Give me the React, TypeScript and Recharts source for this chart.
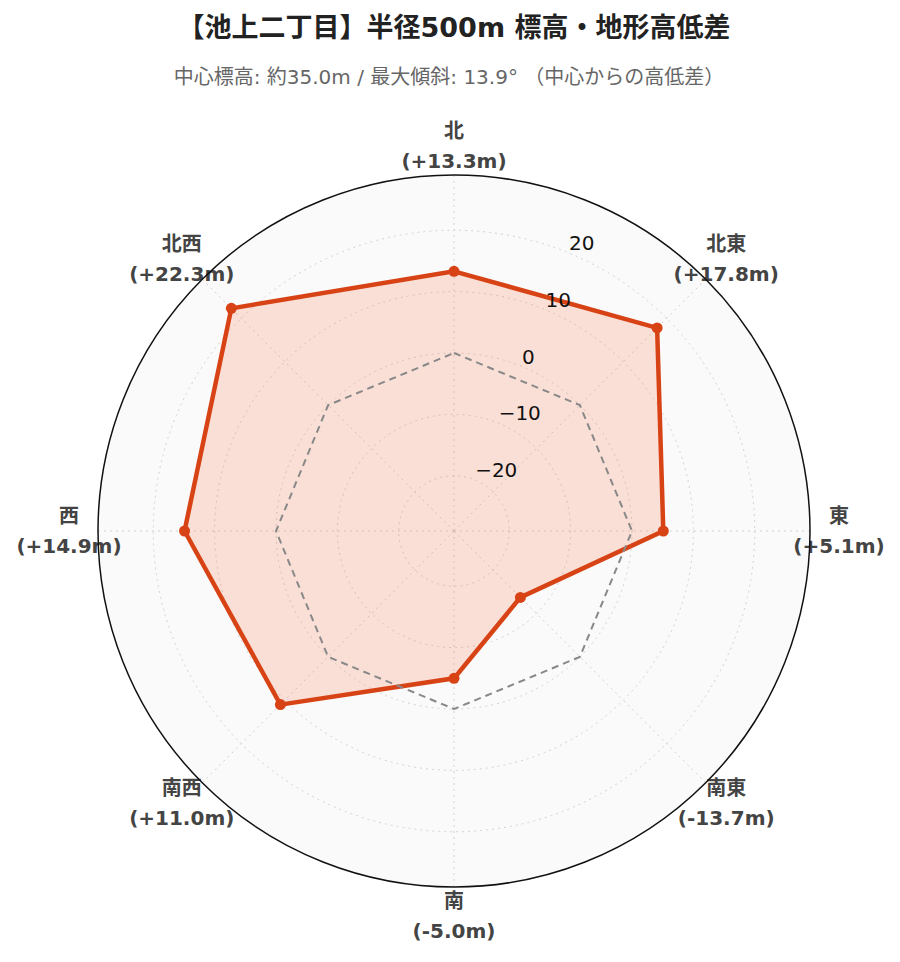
import React from "react";
import {
  RadarChart,
  Radar,
  PolarGrid,
  PolarAngleAxis,
  PolarRadiusAxis,
} from "recharts";

// 方位ごとの中心からの高低差 (m)
const directions = ["北", "北東", "東", "南東", "南", "南西", "西", "北西"];
const elevationDiff = [13.3, 17.8, 5.1, -13.7, -5.0, 11.0, 14.9, 22.3];
const centerLevel = [0, 0, 0, 0, 0, 0, 0, 0];
const radialTicks = [-20, -10, 0, 10, 20];
const radialDomain: [number, number] = [-29, 29];

const TITLE = "【池上二丁目】半径500m 標高・地形高低差";
const SUBTITLE = "中心標高: 約35.0m / 最大傾斜: 13.9° （中心からの高低差）";

const WIDTH = 900;
const HEIGHT = 962;
const CX = 454;
const CY = 531;
const OUTER = 356;
const LABEL_R = OUTER + 29;
const RED = "#d84315";
const FILL = "#ff5722";
const FONT = '"DejaVu Sans", "Noto Sans CJK JP", sans-serif';

const data = directions.map((dir, i) => ({
  dir,
  diff: elevationDiff[i],
  zero: centerLevel[i],
}));

// radius of a value on the radial axis (used for grid circles only)
const toRadius = (v: number) =>
  ((v - radialDomain[0]) / (radialDomain[1] - radialDomain[0])) * OUTER;

const fmtDiff = (v: number) => `(${v >= 0 ? "+" : ""}${v.toFixed(1)}m)`;

const AngleTick = (props: any) => {
  const { x, y, payload } = props;
  const dx = x - CX;
  const dy = y - CY;
  const len = Math.hypot(dx, dy) || 1;
  const lx = CX + (dx / len) * LABEL_R;
  const ly = CY + (dy / len) * LABEL_R;
  const idx = directions.indexOf(payload.value);
  const style = { fontFamily: FONT, fontSize: 20, fontWeight: 700, fill: "#444" };
  return (
    <g>
      <text x={lx} y={ly - 15} textAnchor="middle" dominantBaseline="central" style={style}>
        {payload.value}
      </text>
      <text x={lx} y={ly + 15} textAnchor="middle" dominantBaseline="central" style={style}>
        {fmtDiff(elevationDiff[idx])}
      </text>
    </g>
  );
};

const RadiusTick = (props: any) => {
  const { x, y, payload } = props;
  const v = Number(payload.value);
  const match = radialTicks.find((t) => Math.abs(t - v) < 0.01);
  if (match === undefined) return <g />;
  const label = match < 0 ? `−${Math.abs(match)}` : `${match}`;
  return (
    <text x={x} y={y - 3} textAnchor="start" style={{ fontFamily: FONT, fontSize: 20, fill: "#111" }}>
      {label}
    </text>
  );
};

export default function App() {
  return (
    <div style={{ position: "absolute", left: 0, top: 0, width: WIDTH, height: HEIGHT, background: "#fff" }}>
      <svg width={WIDTH} height={HEIGHT} style={{ position: "absolute", left: 0, top: 0 }}>
        <circle cx={CX} cy={CY} r={OUTER} fill="#fafafa" stroke="none" />
        <text x={454} y={27} textAnchor="middle" dominantBaseline="central"
          style={{ fontFamily: FONT, fontSize: 27, fontWeight: 700, fill: "#222" }}>
          {TITLE}
        </text>
        <text x={449} y={77} textAnchor="middle" dominantBaseline="central"
          style={{ fontFamily: FONT, fontSize: 20, fill: "#666" }}>
          {SUBTITLE}
        </text>
      </svg>
      <div style={{ position: "absolute", left: 0, top: 0 }}>
        <RadarChart
          width={WIDTH}
          height={HEIGHT}
          data={data}
          cx={CX}
          cy={CY}
          outerRadius={OUTER}
          margin={{ top: 0, right: 0, bottom: 0, left: 0 }}
        >
          <PolarGrid
            gridType="circle"
            polarRadius={radialTicks.map(toRadius)}
            stroke="#d2d2d2"
            strokeDasharray="2 4"
          />
          <PolarAngleAxis dataKey="dir" tick={AngleTick} tickLine={false} axisLine={false} />
          <PolarRadiusAxis
            angle={67.5}
            domain={radialDomain}
            allowDataOverflow
            tickCount={59}
            axisLine={false}
            tick={RadiusTick}
          />
          <Radar
            dataKey="diff"
            stroke={RED}
            strokeWidth={4.5}
            fill={FILL}
            fillOpacity={0.16}
            dot={{ r: 5.5, fill: RED, stroke: RED, strokeWidth: 0, fillOpacity: 1 }}
            isAnimationActive={false}
          />
          <Radar
            dataKey="zero"
            stroke="#888"
            strokeWidth={2}
            strokeDasharray="7 5"
            fill="none"
            fillOpacity={0}
            dot={false}
            isAnimationActive={false}
          />
        </RadarChart>
      </div>
      <svg width={WIDTH} height={HEIGHT} style={{ position: "absolute", left: 0, top: 0, pointerEvents: "none" }}>
        <circle cx={CX} cy={CY} r={OUTER} fill="none" stroke="#111" strokeWidth={1.5} />
      </svg>
    </div>
  );
}
